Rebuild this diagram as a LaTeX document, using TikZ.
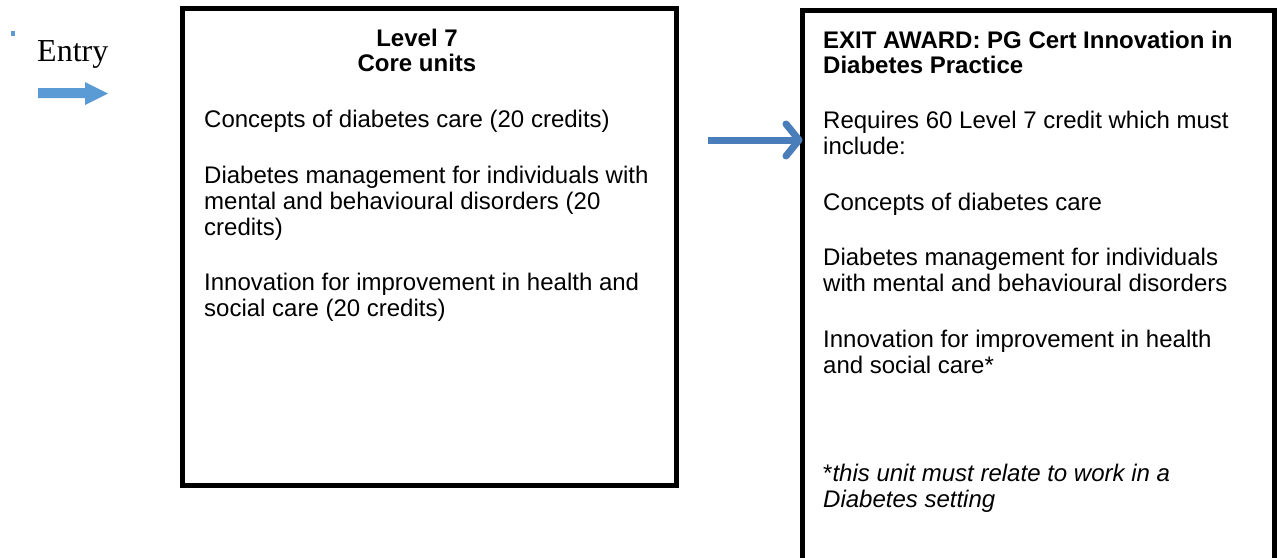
\documentclass[tikz,border=0pt]{standalone}
\usepackage{fontspec}
\setmainfont{Liberation Sans}
\newfontfamily\serifface{Liberation Serif}
\usetikzlibrary{arrows.meta}
\definecolor{entryblue}{RGB}{91,155,213}
\definecolor{linkblue}{RGB}{74,126,187}
\begin{document}
\begin{tikzpicture}[x=1pt,y=-1pt,
  frame/.style={draw=black,line width=5pt,inner sep=0pt,outer sep=0pt,anchor=north west},
  txt/.style={anchor=base west,inner sep=0pt,font=\fontsize{24}{26}\selectfont},
  head/.style={anchor=base,inner sep=0pt,font=\fontsize{24}{26}\selectfont\bfseries},
  headl/.style={txt,font=\fontsize{24}{26}\selectfont\bfseries},
  note/.style={txt,font=\fontsize{24}{26}\selectfont\itshape}]
\useasboundingbox (0,0) rectangle (1277,557);
\clip (0,0) rectangle (1277,557);

% entry marker and label
\fill[entryblue] (11,31) rectangle (15,36);
\node[anchor=base west,inner sep=0pt,font=\fontsize{32}{36}\serifface] (entry) at (37,61) {Entry};
\fill[entryblue] (38,88) -- (85,88) -- (85,82) -- (108,93.5) -- (85,105) -- (85,98) -- (38,98) -- cycle;

% core units box
\node[frame,minimum width=494pt,minimum height=477pt] (core) at (182.5,8.5) {};
\node[head] (c1) at (417,46) {Level 7};
\node[head] (c2) at (417,71) {Core units};
\node[txt] (c3) at (204,127) {Concepts of diabetes care (20 credits)};
\node[txt] (c4) at (204,183) {Diabetes management for individuals with};
\node[txt] (c5) at (204,209) {mental and behavioural disorders (20};
\node[txt] (c6) at (204,235) {credits)};
\node[txt] (c7) at (204,290) {Innovation for improvement in health and};
\node[txt] (c8) at (204,316) {social care (20 credits)};

% exit award box (runs past the lower edge)
\node[frame,minimum width=472pt,minimum height=600pt] (award) at (802.5,10.5) {};
\node[headl] (a1) at (823,48) {EXIT AWARD: PG Cert Innovation in};
\node[headl] (a2) at (823,73) {Diabetes Practice};
\node[txt] (a3) at (823,128) {Requires 60 Level 7 credit which must};
\node[txt] (a4) at (823,154) {include:};
\node[txt] (a5) at (823,210) {Concepts of diabetes care};
\node[txt] (a6) at (823,265) {Diabetes management for individuals};
\node[txt] (a7) at (823,291) {with mental and behavioural disorders};
\node[txt] (a8) at (823,347) {Innovation for improvement in health};
\node[txt] (a9) at (823,373) {and social care*};
\node[note] (a10) at (823,481) {\upshape*\itshape this unit must relate to work in a};
\node[note] (a11) at (823,507) {Diabetes setting};

% link arrow into the award box
\coordinate (linkstart) at (708,140);
\draw[linkblue,line width=7pt,
  -{Straight Barb[length=13pt,width=32pt,line width=7pt,round]}]
  (linkstart) -- (award.west |- linkstart);
\end{tikzpicture}
\end{document}
